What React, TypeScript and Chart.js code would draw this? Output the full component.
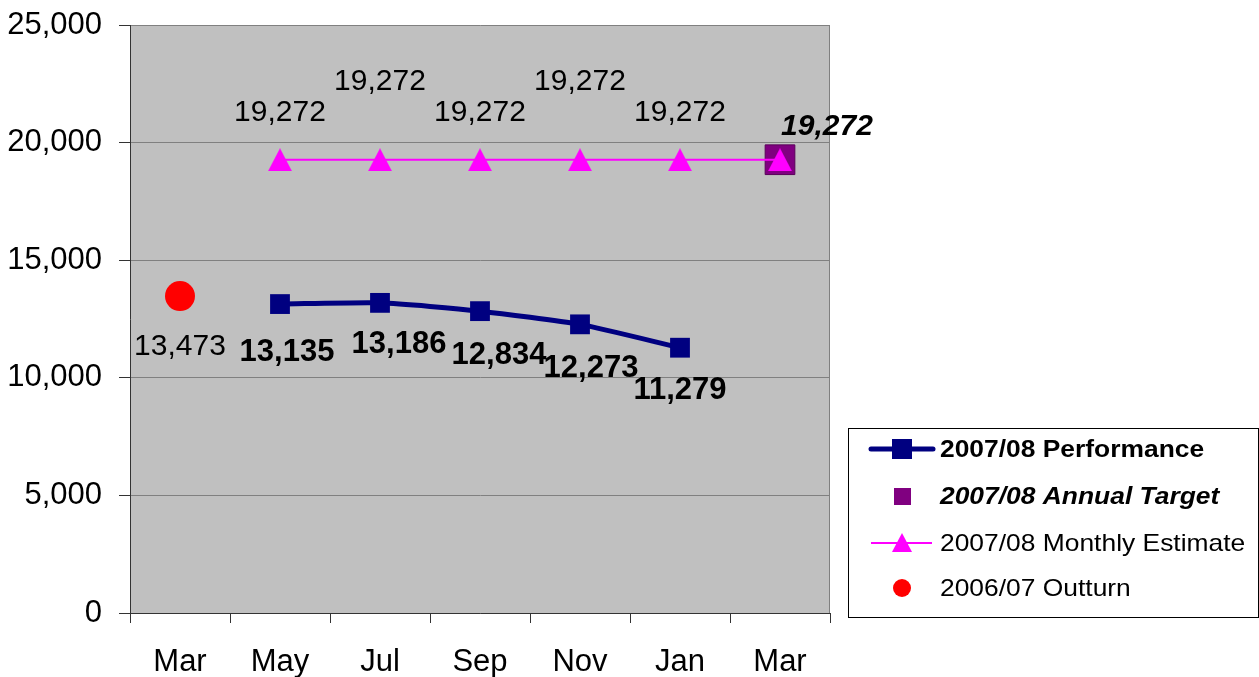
import React, { useEffect, useRef } from 'react';
import { Chart, registerables } from 'chart.js';

Chart.register(...registerables);

// ---- data ----
const categories = ['Mar', 'May', 'Jul', 'Sep', 'Nov', 'Jan', 'Mar'];
const performance = [null, 13135, 13186, 12834, 12273, 11279, null];
const annualTarget = [null, null, null, null, null, null, 19272];
const monthlyEstimate = [null, 19272, 19272, 19272, 19272, 19272, 19272];
const outturn = [13473, null, null, null, null, null, null];
const yTickValues = [0, 5000, 10000, 15000, 20000, 25000];
const seriesNames = [
  '2007/08 Performance',
  '2007/08 Annual Target',
  '2007/08 Monthly Estimate',
  '2006/07 Outturn',
];
// which monthly estimate points carry a label
const estimateLabelShown = [false, true, true, true, true, true, false];

// ---- label placement (style, not data) ----
const perfLabelOffsets: ([number, number] | null)[] = [null, [7, 48], [19, 42], [19, 44], [11, 44], [0, 43], null];
const estimateLabelOffsets: ([number, number] | null)[] = [null, [0, -47], [0, -78], [0, -47], [0, -78], [0, -47], null];
const targetLabelOffset: [number, number] = [47, -33];
const outturnLabelOffset: [number, number] = [0, 51];

const FONT = "'Liberation Sans', Arial, sans-serif";
const NAVY = '#000080';
const PURPLE = '#800080';
const MAGENTA = '#FF00FF';
const RED = '#FF0000';

const fmt = (v: number) => v.toLocaleString('en-US');

function makeTriangle(w: number, h: number, color: string) {
  const c = document.createElement('canvas');
  c.width = w;
  c.height = h;
  const g = c.getContext('2d')!;
  g.fillStyle = color;
  g.beginPath();
  g.moveTo(w / 2, 0);
  g.lineTo(w, h);
  g.lineTo(0, h);
  g.closePath();
  g.fill();
  return c;
}

export default function App() {
  const ref = useRef<HTMLCanvasElement>(null);

  useEffect(() => {
    const tri = makeTriangle(24, 23, MAGENTA);

    const bgPlugin = {
      id: 'plotBg',
      beforeDraw(chart: any) {
        const { ctx, chartArea: a } = chart;
        ctx.save();
        ctx.fillStyle = '#C0C0C0';
        ctx.fillRect(a.left, a.top, a.right - a.left, a.bottom - a.top);
        ctx.strokeStyle = '#808080';
        ctx.lineWidth = 1;
        ctx.beginPath();
        ctx.moveTo(Math.round(a.right) - 0.5, a.top);
        ctx.lineTo(Math.round(a.right) - 0.5, a.bottom);
        ctx.stroke();
        ctx.restore();
      },
    };

    const labelPlugin = {
      id: 'labels',
      afterDatasetsDraw(chart: any) {
        const { ctx } = chart;
        ctx.save();
        ctx.fillStyle = '#000';
        ctx.textAlign = 'center';
        ctx.textBaseline = 'middle';
        // performance
        const pm = chart.getDatasetMeta(0);
        ctx.font = `bold 31px ${FONT}`;
        performance.forEach((v, i) => {
          const off = perfLabelOffsets[i];
          if (v == null || !off) return;
          const p = pm.data[i];
          ctx.fillText(fmt(v), p.x + off[0], p.y + off[1]);
        });
        // estimate
        const em = chart.getDatasetMeta(2);
        ctx.font = `30px ${FONT}`;
        monthlyEstimate.forEach((v, i) => {
          const off = estimateLabelOffsets[i];
          if (v == null || !off || !estimateLabelShown[i]) return;
          const p = em.data[i];
          ctx.fillText(fmt(v), p.x + off[0], p.y + off[1]);
        });
        // target
        const tm = chart.getDatasetMeta(1);
        ctx.font = `italic bold 30px ${FONT}`;
        annualTarget.forEach((v, i) => {
          if (v == null) return;
          const p = tm.data[i];
          ctx.fillText(fmt(v), p.x + targetLabelOffset[0], p.y + targetLabelOffset[1]);
        });
        // outturn
        const om = chart.getDatasetMeta(3);
        ctx.font = `30px ${FONT}`;
        outturn.forEach((v, i) => {
          if (v == null) return;
          const p = om.data[i];
          ctx.fillText(fmt(v), p.x + outturnLabelOffset[0], p.y + outturnLabelOffset[1]);
        });
        ctx.restore();
      },
    };

    const legendPlugin = {
      id: 'customLegend',
      afterDraw(chart: any) {
        const { ctx } = chart;
        ctx.save();
        const bx = 848.5, by = 428.5, bw = 410, bh = 189;
        ctx.fillStyle = '#FFFFFF';
        ctx.fillRect(bx, by, bw, bh);
        ctx.strokeStyle = '#000';
        ctx.lineWidth = 1;
        ctx.strokeRect(bx, by, bw, bh);
        const mx = 902;
        const tx = 940;
        const rows = [449, 496, 543, 588];
        // row 1: performance
        ctx.strokeStyle = NAVY;
        ctx.lineWidth = 5;
        ctx.lineCap = 'round';
        ctx.beginPath();
        ctx.moveTo(871, rows[0]);
        ctx.lineTo(933, rows[0]);
        ctx.stroke();
        ctx.fillStyle = NAVY;
        ctx.fillRect(mx - 10, rows[0] - 10, 20, 20);
        // row 2: target
        ctx.fillStyle = PURPLE;
        ctx.fillRect(mx - 8, rows[1] - 8, 17, 17);
        // row 3: estimate
        ctx.strokeStyle = MAGENTA;
        ctx.lineWidth = 2;
        ctx.lineCap = 'butt';
        ctx.beginPath();
        ctx.moveTo(871, rows[2]);
        ctx.lineTo(932, rows[2]);
        ctx.stroke();
        ctx.fillStyle = MAGENTA;
        ctx.beginPath();
        ctx.moveTo(mx, rows[2] - 10);
        ctx.lineTo(mx + 10, rows[2] + 9);
        ctx.lineTo(mx - 10, rows[2] + 9);
        ctx.closePath();
        ctx.fill();
        // row 4: outturn
        ctx.fillStyle = RED;
        ctx.beginPath();
        ctx.arc(mx, rows[3], 9, 0, Math.PI * 2);
        ctx.fill();
        // texts
        const fonts = [`bold 24px ${FONT}`, `italic bold 24px ${FONT}`, `24px ${FONT}`, `24px ${FONT}`];
        ctx.fillStyle = '#000';
        ctx.textAlign = 'left';
        ctx.textBaseline = 'middle';
        seriesNames.forEach((name, i) => {
          ctx.save();
          ctx.font = fonts[i];
          ctx.translate(tx, rows[i] + 1);
          ctx.scale(1.1, 1);
          ctx.fillText(name, 0, 0);
          ctx.restore();
        });
        ctx.restore();
      },
    };

    const chart = new Chart(ref.current!, {
      type: 'line',
      data: {
        labels: categories,
        datasets: [
          {
            label: seriesNames[0],
            data: performance as any,
            borderColor: NAVY,
            backgroundColor: NAVY,
            borderWidth: 5,
            tension: 0.2,
            pointStyle: 'rect',
            pointRadius: 14,
            pointBorderWidth: 0,
            pointBackgroundColor: NAVY,
            order: 1,
          },
          {
            label: seriesNames[1],
            data: annualTarget as any,
            showLine: false,
            borderColor: '#5A005A',
            backgroundColor: PURPLE,
            pointStyle: 'rect',
            pointRadius: 21,
            pointBorderWidth: 1,
            pointBorderColor: '#5A005A',
            pointBackgroundColor: PURPLE,
            order: 2,
          },
          {
            label: seriesNames[2],
            data: monthlyEstimate as any,
            borderColor: MAGENTA,
            backgroundColor: MAGENTA,
            borderWidth: 2,
            pointStyle: tri as any,
            pointRadius: 12,
            order: 0,
          },
          {
            label: seriesNames[3],
            data: outturn as any,
            showLine: false,
            borderColor: RED,
            backgroundColor: RED,
            pointStyle: 'circle',
            pointRadius: 15,
            pointBorderWidth: 0,
            pointBackgroundColor: RED,
            order: 3,
          },
        ],
      },
      options: {
        animation: false,
        responsive: false,
        devicePixelRatio: 1,
        layout: { padding: { top: 25, right: 429, left: 0, bottom: 0 } },
        plugins: {
          legend: { display: false },
          tooltip: { enabled: false },
          title: { display: false },
        },
        scales: {
          x: {
            type: 'category',
            offset: true,
            grid: {
              offset: true,
              drawOnChartArea: false,
              drawTicks: true,
              tickLength: 10,
              tickColor: '#333333',
              tickWidth: 1,
            },
            border: { color: '#333333', width: 1 },
            ticks: {
              font: { family: FONT, size: 31 },
              color: '#000',
              padding: 21,
              maxRotation: 0,
              autoSkip: false,
            },
            afterFit(scale: any) {
              scale.height = 64;
              scale.paddingLeft = 0;
              scale.paddingRight = 0;
            },
          },
          y: {
            min: 0,
            max: 25000,
            afterBuildTicks(scale: any) {
              scale.ticks = yTickValues.map((v) => ({ value: v }));
            },
            grid: {
              color: '#808080',
              lineWidth: 1,
              tickLength: 11,
              tickColor: '#333333',
            },
            border: { color: '#333333', width: 1 },
            ticks: {
              font: { family: FONT, size: 31 },
              color: '#000',
              padding: 17,
              callback: (v: any) => fmt(Number(v)),
            },
            afterFit(scale: any) {
              scale.width = 130;
              scale.paddingTop = 0;
              scale.paddingBottom = 0;
            },
          },
        },
      },
      plugins: [bgPlugin, labelPlugin, legendPlugin],
    });
    return () => chart.destroy();
  }, []);

  return (
    <div style={{ position: 'absolute', left: 0, top: 0, width: 1259, height: 677, background: '#fff' }}>
      <canvas ref={ref} width={1259} height={677} style={{ display: 'block', width: 1259, height: 677 }} />
    </div>
  );
}
